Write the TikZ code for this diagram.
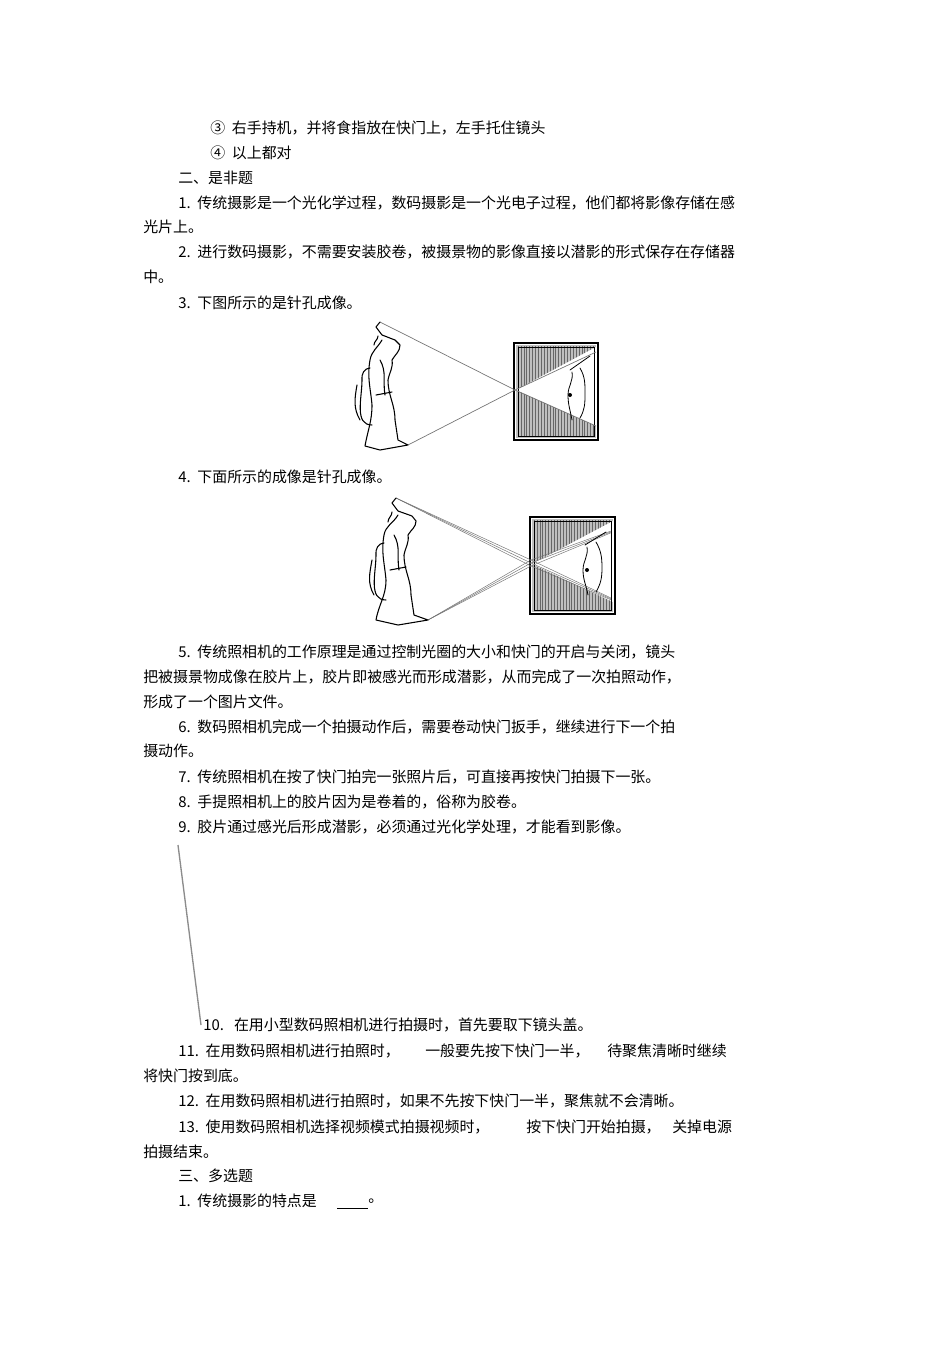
\documentclass[tikz,border=0pt]{standalone}
\usepackage{fontspec}
\setmainfont{Noto Sans CJK SC}
\usetikzlibrary{calc}
\begin{document}
\begin{tikzpicture}[x=0.75pt,y=-0.75pt,
  tx/.style={anchor=west,inner sep=0pt,font=\fontsize{11.2}{13}\selectfont},
  ray/.style={draw=black!55,line width=0.5pt},
  fig/.style={line width=0.8pt,line cap=round,line join=round}]
\fill[white] (0,0) rectangle (950,1345);
\useasboundingbox (0,0) rectangle (950,1345);
% text lines
\node[tx] (l1) at (210,128) {③\ \ 右手持机，并将食指放在快门上，左手托住镜头};
\node[tx] (l2) at (210,153) {④\ \ 以上都对};
\node[tx] (l3) at (178,178) {二、是非题};
\node[tx] (l4) at (178,203) {1.\ \ 传统摄影是一个光化学过程，数码摄影是一个光电子过程，他们都将影像存储在感};
\node[tx] (l5) at (143,227) {光片上。};
\node[tx] (l6) at (178,252) {2.\ \ 进行数码摄影，不需要安装胶卷，被摄景物的影像直接以潜影的形式保存在存储器};
\node[tx] (l7) at (143,277) {中。};
\node[tx] (l8) at (178,303) {3.\ \ 下图所示的是针孔成像。};
\node[tx] (l9) at (178,477) {4.\ \ 下面所示的成像是针孔成像。};
\node[tx] (l10) at (178,652) {5.\ \ 传统照相机的工作原理是通过控制光圈的大小和快门的开启与关闭，镜头};
\node[tx] (l11) at (143,677) {把被摄景物成像在胶片上，胶片即被感光而形成潜影，从而完成了一次拍照动作，};
\node[tx] (l12) at (143,702) {形成了一个图片文件。};
\node[tx] (l13) at (178,727) {6.\ \ 数码照相机完成一个拍摄动作后，需要卷动快门扳手，继续进行下一个拍};
\node[tx] (l14) at (143,751) {摄动作。};
\node[tx] (l15) at (178,777) {7.\ \ 传统照相机在按了快门拍完一张照片后，可直接再按快门拍摄下一张。};
\node[tx] (l16) at (178,802) {8.\ \ 手提照相机上的胶片因为是卷着的，俗称为胶卷。};
\node[tx] (l17) at (178,827) {9.\ \ 胶片通过感光后形成潜影，必须通过光化学处理，才能看到影像。};
\node[tx] (l18) at (203,1025) {10.\ \ \ 在用小型数码照相机进行拍摄时，首先要取下镜头盖。};
\node[tx] (l19) at (178,1051) {11.\ \ 在用数码照相机进行拍照时，};
\node[tx] (l19b) at (425,1051) {一般要先按下快门一半，};
\node[tx] (l19c) at (607,1051) {待聚焦清晰时继续};
\node[tx] (l20) at (143,1076) {将快门按到底。};
\node[tx] (l21) at (178,1101) {12.\ \ 在用数码照相机进行拍照时，如果不先按下快门一半，聚焦就不会清晰。};
\node[tx] (l22) at (178,1127) {13.\ \ 使用数码照相机选择视频模式拍摄视频时，};
\node[tx] (l22b) at (526,1127) {按下快门开始拍摄，};
\node[tx] (l22c) at (672,1127) {关掉电源};
\node[tx] (l23) at (143,1152) {拍摄结束。};
\node[tx] (l24) at (178,1176) {三、多选题};
\node[tx] (l25) at (178,1201) {1.\ \ 传统摄影的特点是};
\coordinate (u1) at (337,1208); \coordinate (u2) at (368,1208);
\draw[line width=0.5pt] (u1) -- (u2);
\node[tx] (l25b) at (368,1201) {。};
% scan artifact line
\coordinate (s1) at (178,845); \coordinate (s2) at (201,1025);
\draw[black!45,line width=1pt] (s1) -- (s2);

% ---------- figure 1 ----------
\begin{scope}
 \fill[black!25] (516,345) rectangle (596,438);
 \foreach \i in {0,...,26} \draw[black!60,line width=0.4pt] (518+\i*2.9,346) -- (518+\i*2.9,437);
 \fill[white] (516,390) -- (596,347) -- (596,426) -- cycle;
 \draw[line width=2pt] (514,343) rectangle (598,440);
 \draw[line width=0.6pt] (518,347) rectangle (594,436);
 \coordinate (p1) at (515,390);
 \coordinate (h1) at (380,322); \coordinate (f1) at (408,445);
 \coordinate (e1) at (596,426); \coordinate (e2) at (596,352);
 \draw[ray] (h1) -- (p1) -- (e1);
 \draw[ray] (f1) -- (p1) -- (e2);
 \draw[fig] (380,322) -- (376,327) -- (382,335) (378,336) to[out=-90,in=90] (374,345)
   (382,335) to[out=-20,in=160] (395,340) -- (400,345) to[out=-90,in=60] (392,360)
   (392,360) to[out=-80,in=80] (388,380) to[out=-90,in=90] (395,420) -- (398,440) -- (408,445)
   (408,445) -- (380,450) -- (365,446) (365,446) to[out=80,in=-90] (372,405)
   (372,405) to[out=95,in=-100] (370,360) to[out=80,in=-120] (382,340);
 \draw[fig] (362,380) to[out=100,in=180] (370,368) (362,380) to[out=-90,in=180] (372,425)
   (357,385) to[out=-100,in=120] (360,420);
 \draw[fig] (376,395) -- (392,392) (380,360) to[out=-60,in=100] (385,395);
 \draw[fig,line width=0.6pt] (570,370) -- (590,356) (572,372) to[out=-80,in=90] (568,395) to[out=-90,in=100] (572,420)
   (580,368) to[out=-60,in=90] (585,395) to[out=-90,in=60] (580,418);
 \fill (570,395) circle (2);
\end{scope}

% ---------- figure 2 ----------
\begin{scope}
 \fill[black!25] (532,519) rectangle (613,612);
 \foreach \i in {0,...,26} \draw[black!60,line width=0.4pt] (534+\i*2.9,520) -- (534+\i*2.9,611);
 \fill[white] (532,564) -- (613,521) -- (613,602) -- cycle;
 \draw[line width=2pt] (530,517) rectangle (615,614);
 \draw[line width=0.6pt] (534,521) rectangle (611,610);
 \coordinate (q1) at (531,560);
 \coordinate (h2) at (396,498); \coordinate (f2) at (428,620);
 \foreach \d in {0,3,6} {
   \draw[ray,line width=0.35pt] (h2) -- ($(q1)+(0,\d)$) -- ($(611,598)+(0,\d*0.3)$);
   \draw[ray,line width=0.35pt] (f2) -- ($(q1)+(0,\d)$) -- ($(611,531)+(0,\d*0.3)$);
 }
 \draw[fig] (396,498) -- (392,503) (398,511) to[out=-20,in=160] (412,516) -- (416,521) to[out=-90,in=60] (408,535)
   (408,535) to[out=-80,in=80] (404,555) to[out=-90,in=90] (411,595) -- (414,615) -- (428,620)
   (428,620) -- (398,625) -- (376,620) (376,620) to[out=80,in=-90] (386,580)
   (386,580) to[out=95,in=-100] (384,535) to[out=80,in=-120] (398,515) (392,503) -- (398,511)
   (392,512) to[out=-90,in=90] (388,522);
 \draw[fig] (376,555) to[out=100,in=180] (384,543) (376,555) to[out=-90,in=180] (386,600)
   (372,560) to[out=-100,in=120] (374,595);
 \draw[fig] (390,570) -- (406,567) (394,535) to[out=-60,in=100] (399,570);
 \draw[fig,line width=0.6pt] (585,545) -- (606,532) (587,547) to[out=-80,in=90] (583,570) to[out=-90,in=100] (588,595)
   (596,542) to[out=-60,in=90] (602,568) to[out=-90,in=60] (596,592);
 \fill (587,570) circle (2);
\end{scope}
\end{tikzpicture}
\end{document}
